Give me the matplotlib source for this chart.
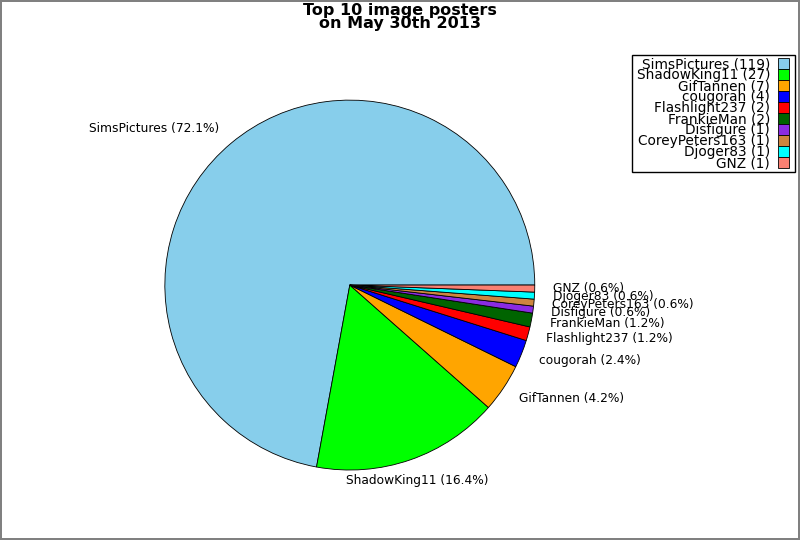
import matplotlib
matplotlib.use('Agg')
import matplotlib.pyplot as plt
from matplotlib.patches import Rectangle
from matplotlib.transforms import IdentityTransform

# top 10 posters, counts
names = ['SimsPictures', 'ShadowKing11', 'GifTannen', 'cougorah', 'Flashlight237',
         'FrankieMan', 'Disfigure', 'CoreyPeters163', 'Djoger83', 'GNZ']
counts = [119, 27, 7, 4, 2, 2, 1, 1, 1, 1]
colors = ['skyblue', 'lime', 'orange', 'blue', 'red', 'darkgreen',
          'blueviolet', 'peru', 'cyan', 'salmon']

total = sum(counts)
pie_labels = ['%s (%.1f%%)' % (n, 100.0 * c / total) for n, c in zip(names, counts)]
legend_labels = ['%s (%d)' % (n, c) for n, c in zip(names, counts)]

fig = plt.figure(figsize=(8, 5.4), dpi=100, edgecolor='gray', linewidth=1.5)
ax = fig.add_axes([0.206, 0.1296, 0.4625, 0.685])
wedges, texts = ax.pie(counts, labels=pie_labels, colors=colors, startangle=0,
                       labeldistance=1.1,
                       wedgeprops={'edgecolor': 'black', 'linewidth': 0.6},
                       textprops={'fontsize': 8.8})
ax.set_aspect('equal')
ax.set_xlim(-1, 1)
ax.set_ylim(-1, 1)

# the second label sits just under the pie in the original
texts[1].set_position((-0.02, -1.055))
texts[1].set_ha('left')

fig.text(0.5, 0.995, 'Top 10 image posters\non May 30th 2013', ha='center', va='top',
         fontsize=11.5, fontweight='bold', linespacing=0.85)

leg = fig.legend(wedges, legend_labels, loc='upper right', bbox_to_anchor=(0.989, 0.898),
                 borderaxespad=0, fontsize=9.8, markerfirst=False, labelspacing=-0.22,
                 handlelength=0.8, handleheight=0.8, handletextpad=0.6, borderpad=0.15,
                 fancybox=False, framealpha=1, edgecolor='black')
for t in leg.get_texts():
    t.set_ha('right')

# legend box has a bit more room at the sides than matplotlib gives
fig.canvas.draw()
bb = leg.get_window_extent()
leg.get_frame().set_visible(False)
box = Rectangle((bb.x0 - 3, bb.y0), bb.width + 7, bb.height, transform=IdentityTransform(),
                facecolor='white', edgecolor='black', linewidth=1, zorder=4)
fig.add_artist(box)

fig.savefig('out.png', dpi=100, edgecolor=fig.get_edgecolor())
